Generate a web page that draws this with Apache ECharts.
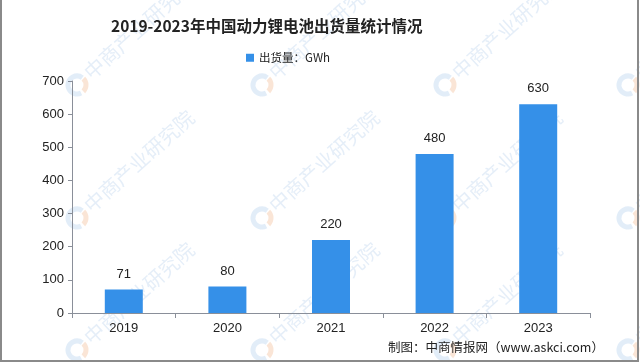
<!DOCTYPE html>
<html><head><meta charset="utf-8">
<script src="https://cdn.jsdelivr.net/npm/echarts@6/dist/echarts.min.js"></script>
<style>html,body{margin:0;padding:0;background:#fff}#c{width:640px;height:363px}</style>
</head><body><div id="c"></div>
<script>
const categories = ['2019','2020','2021','2022','2023'];
const shipments = [71, 80, 220, 480, 630];
const yTicks = [0,100,200,300,400,500,600,700];
const titleText = '2019-2023年中国动力锂电池出货量统计情况';
const seriesName = '出货量：GWh';
const footerText = '制图：中商情报网（www.askci.com）';
const watermarkText = '中商产业研究院';

const chart = echarts.init(document.getElementById('c'), null, {renderer:'canvas'});
const wmX = [77, 262, 445, 628];
const wmY = [85, 218, 350];
const graphics = [];
const ang = 42*Math.PI/180;
wmX.forEach(x=>wmY.forEach(y=>{
  graphics.push({type:'arc', z:-10, silent:true, shape:{cx:x, cy:y, r:9, startAngle:Math.PI*0.35, endAngle:Math.PI*1.7}, style:{stroke:'rgba(150,190,230,0.28)', lineWidth:5, fill:null}});
  graphics.push({type:'arc', z:-10, silent:true, shape:{cx:x, cy:y, r:9, startAngle:Math.PI*1.75, endAngle:Math.PI*2.25}, style:{stroke:'rgba(240,170,120,0.3)', lineWidth:5, fill:null}});
  graphics.push({type:'text', z:-10, silent:true, x:x+10, y:y-10, rotation:ang, style:{text:watermarkText, fontSize:20, fontFamily:'Noto Sans CJK SC', fill:'rgba(160,195,230,0.28)', textAlign:'left', textVerticalAlign:'middle'}});
}));
graphics.push({type:'text', left:388, top:341, style:{text:footerText, fontSize:12.5, fontFamily:'"Noto Sans CJK SC", "DejaVu Sans Mono"', fill:'#222'}});
graphics.push({type:'rect', silent:true, shape:{x:1, y:-3, width:637, height:364}, style:{stroke:'#8a8a8a', lineWidth:2, fill:null}});

chart.setOption({
  backgroundColor:'#fff',
  animation:false,
  title:{text:titleText, left:106, top:13, textStyle:{fontSize:15.5, fontWeight:'bold', color:'#222', fontFamily:'Noto Sans CJK SC'}},
  legend:{left:241, top:47, itemWidth:8, itemHeight:8, itemGap:3, icon:'rect', textStyle:{fontSize:11.5, color:'#222', fontFamily:'Noto Sans CJK SC'}, data:[seriesName]},
  grid:{left:72, right:50, top:81, bottom:50, containLabel:false},
  xAxis:{type:'category', data:categories, axisLine:{lineStyle:{color:'#8a8f99', width:1}}, axisTick:{show:true, length:5, lineStyle:{color:'#8a8f99'}}, axisLabel:{fontSize:13, color:'#222', margin:9, fontFamily:'Liberation Sans'}},
  yAxis:{type:'value', min:yTicks[0], max:yTicks[yTicks.length-1], interval:100, axisLine:{show:true, lineStyle:{color:'#8a8f99', width:1}}, axisTick:{show:true, length:4, lineStyle:{color:'#8a8f99'}}, splitLine:{show:false}, axisLabel:{fontSize:13, color:'#222', margin:8, fontFamily:'Liberation Sans'}},
  series:[{name:seriesName, type:'bar', data:shipments, barWidth:38, itemStyle:{color:'#3590e8'}, label:{show:true, position:'top', distance:9, fontSize:13, color:'#222', fontFamily:'Liberation Sans'}}],
  graphic:graphics
});
</script></body></html>
